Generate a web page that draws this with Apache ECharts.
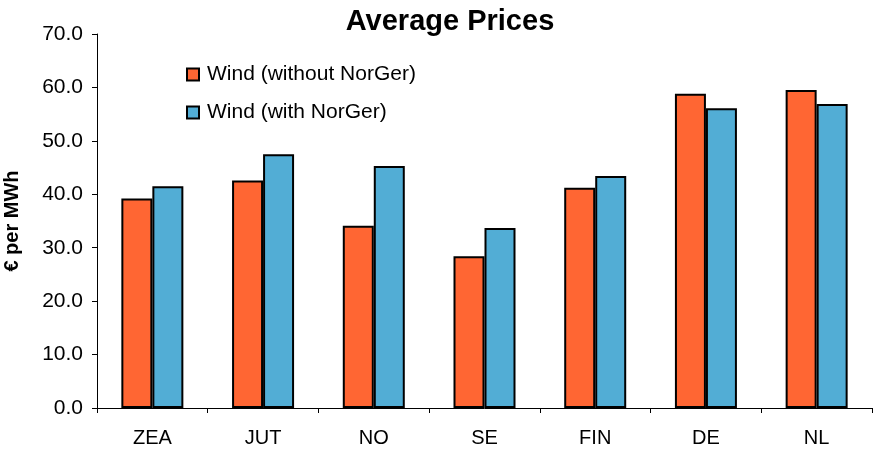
<!DOCTYPE html>
<html>
<head>
<meta charset="utf-8">
<script src="https://cdn.jsdelivr.net/npm/echarts@6/dist/echarts.min.js"></script>
<style>
  html, body { margin: 0; padding: 0; background: #fff; }
  #chart { width: 874px; height: 450px; }
</style>
</head>
<body>
<div id="chart"></div>
<script>
// Average electricity prices per price area, wind scenario with and without the NorGer cable
const regions = ['ZEA', 'JUT', 'NO', 'SE', 'FIN', 'DE', 'NL'];
const windWithoutNorGer = [39.2, 42.6, 34.1, 28.4, 41.2, 58.8, 59.5];
const windWithNorGer = [41.5, 47.5, 45.3, 33.7, 43.4, 56.1, 56.9];
const seriesNames = ['Wind (without NorGer)', 'Wind (with NorGer)'];

const FONT = '"Liberation Sans", Arial, sans-serif';
const chart = echarts.init(document.getElementById('chart'), null, { renderer: 'canvas' });

chart.setOption({
  animation: false,
  backgroundColor: '#ffffff',
  textStyle: { fontFamily: FONT, color: '#000' },
  title: {
    text: 'Average Prices',
    left: 445,
    top: 2,
    textAlign: 'center',
    textStyle: { fontFamily: FONT, fontSize: 29, fontWeight: 'bold', color: '#000' }
  },
  legend: {
    orient: 'vertical',
    left: 181,
    top: 59,
    itemWidth: 12,
    itemHeight: 12,
    itemGap: 17,
    icon: 'rect',
    textStyle: { fontFamily: FONT, fontSize: 21, color: '#000', lineHeight: 21, padding: [0, 0, 0, 3] },
    data: seriesNames
  },
  grid: { left: 97, right: 2, top: 34, bottom: 42, containLabel: false, outerBoundsMode: 'none' },
  xAxis: {
    type: 'category',
    data: regions,
    axisLine: { lineStyle: { color: '#000', width: 1 } },
    axisTick: { show: true, alignWithLabel: false, length: 5, lineStyle: { color: '#000' } },
    axisLabel: { fontFamily: FONT, fontSize: 20, color: '#000', margin: 20 },
    splitLine: { show: false }
  },
  yAxis: {
    type: 'value',
    min: 0,
    max: 70,
    interval: 10,
    name: '€ per MWh',
    nameLocation: 'middle',
    nameRotate: 90,
    nameGap: 75,
    nameTextStyle: { fontFamily: FONT, fontSize: 20, fontWeight: 'bold', color: '#000' },
    axisLine: { show: true, lineStyle: { color: '#000', width: 1 } },
    axisTick: { show: true, length: 5, lineStyle: { color: '#000' } },
    axisLabel: {
      fontFamily: FONT, fontSize: 21, color: '#000', margin: 14,
      formatter: v => v.toFixed(1)
    },
    splitLine: { show: false }
  },
  series: [
    {
      name: seriesNames[0],
      type: 'bar',
      data: windWithoutNorGer,
      barWidth: 31,
      barGap: '0%',
      itemStyle: { color: '#FF6633', borderColor: '#000', borderWidth: 2 }
    },
    {
      name: seriesNames[1],
      type: 'bar',
      data: windWithNorGer,
      barWidth: 31,
      barGap: '0%',
      itemStyle: { color: '#52ADD5', borderColor: '#000', borderWidth: 2 }
    }
  ]
});
</script>
</body>
</html>
